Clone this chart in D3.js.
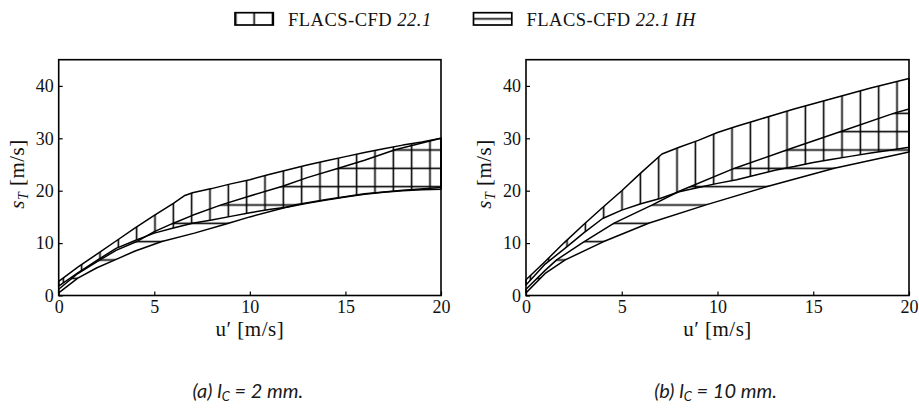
<!DOCTYPE html>
<html>
<head>
<meta charset="utf-8">
<script src="https://cdn.jsdelivr.net/npm/d3@7"></script>
<style>
  html, body { margin: 0; padding: 0; background: #fff; }
  svg { display: block; }
</style>
</head>
<body>
<svg id="chart" width="919" height="413"></svg>
<script>
// Turbulent burning velocity s_T against u' — bounds of each simulation envelope, [u', s_T]
// Panel (a): l_C = 2 mm
const a_cfdUpper = [[0,2.7],[1,5.4],[2,7.9],[3,10.4],[4,12.9],[5,15.3],[6,17.6],[6.6,19.1],[7,19.6],[8,20.4],[9,21.3],[10,22.1],[11,23.1],[12,24.0],[13,24.9],[14,25.7],[15,26.5],[16,27.3],[17,28.0],[18,28.7],[19,29.3],[20,30.0]];
const a_cfdLower = [[0,1.8],[1,4.3],[2,6.7],[3,9.0],[4,10.5],[5,11.9],[6,12.9],[7,13.8],[8,14.4],[9,15.1],[10,15.8],[11,16.4],[12,16.9],[13,17.6],[14,18.2],[15,18.8],[16,19.3],[17,19.7],[18,20.0],[19,20.2],[20,20.3]];
const a_ihUpper  = [[0,1.2],[1,4.2],[2.16,6.8],[3,8.6],[4.08,10.3],[5,12.2],[6,13.8],[7,15.3],[8.5,17.3],[10,19.0],[11.75,20.9],[13,22.5],[14.63,24.3],[16,25.8],[17.6,27.8],[19,29.1],[20,30.0]];
const a_ihLower  = [[0,0.5],[1,3.3],[2,5.3],[2.95,6.8],[4,8.5],[5.4,10.3],[7.1,11.9],[8.8,13.7],[10,15.0],[12.4,17.3],[14,18.3],[16,19.4],[18,20.1],[20,20.6]];

// Panel (b): l_C = 10 mm
const b_cfdUpper = [[0,3.0],[1,6.5],[2,10.1],[3,13.5],[4,16.8],[5,20.0],[6,23.4],[7.1,27.0],[8,28.3],[9,29.6],[10,31.1],[11,32.3],[12,33.4],[13,34.5],[14,35.6],[15,36.6],[16,37.6],[17,38.6],[18,39.6],[19,40.5],[20,41.4]];
const b_cfdLower = [[0,2.0],[1,6.0],[2,8.9],[3,11.9],[4,14.7],[5,16.3],[6,17.5],[7,18.5],[8,19.8],[9,20.6],[10,21.4],[11,22.1],[12,23.0],[13,23.9],[14,24.6],[15,25.4],[16,26.0],[17,26.6],[18,27.2],[19,27.7],[20,28.3]];
const b_ihUpper  = [[0,1.2],[1,4.8],[1.6,6.8],[3,10.2],[4.6,13.8],[6.6,17.3],[8,19.9],[10.9,24.3],[13.65,27.8],[16.44,31.3],[19.23,34.8],[20,35.6]];
const b_ihLower  = [[0,0.5],[1,4.2],[2.05,6.8],[4,10.2],[6.4,13.8],[9.4,17.3],[12.6,20.8],[16.1,24.3],[20,27.4]];

const xTicks = [0, 5, 10, 15, 20];
const yTicks = [0, 10, 20, 30, 40];
const xDomain = [0, 20];
const yDomain = [0, 45];
const seriesNames = ["FLACS-CFD", "FLACS-CFD"];
const seriesVersions = ["22.1", "22.1 IH"];
const captionTags = ["(a)", "(b)"];
const captionSizes = ["2 mm.", "10 mm."];

// ---- layout ----
const HATCH = 18.333;
const TOP = 59.7, BOTTOM = 295.5;
const panels = [
  { id: "a", left: 58.7, right: 441, vPhase: 63.33, hPhase: 150,
    cfd: [a_cfdUpper, a_cfdLower], ih: [a_ihUpper, a_ihLower] },
  { id: "b", left: 526, right: 909, vPhase: 548.7, hPhase: 150,
    cfd: [b_cfdUpper, b_cfdLower], ih: [b_ihUpper, b_ihLower] }
];
const serif = "'Liberation Serif', 'DejaVu Serif', serif";

const svg = d3.select("#chart");
const defs = svg.append("defs");

// hatch patterns in page coordinates: '|' for FLACS-CFD 22.1, '-' for the IH variant
function makeHatch(id, vertical, phase) {
  const p = defs.append("pattern")
    .attr("id", id)
    .attr("patternUnits", "userSpaceOnUse")
    .attr("width", HATCH).attr("height", HATCH);
  if (vertical) {
    p.attr("x", phase - HATCH / 2).attr("y", 0);
    p.append("line").attr("x1", HATCH / 2).attr("x2", HATCH / 2)
      .attr("y1", -1).attr("y2", HATCH + 1);
  } else {
    p.attr("x", 0).attr("y", phase - HATCH / 2);
    p.append("line").attr("y1", HATCH / 2).attr("y2", HATCH / 2)
      .attr("x1", -1).attr("x2", HATCH + 1);
  }
  p.selectAll("line").attr("stroke", "#000").attr("stroke-width", 1.6);
}

panels.forEach((P, i) => {
  makeHatch("vh-" + P.id, true, P.vPhase);
  makeHatch("hh-" + P.id, false, P.hPhase);

  const x = d3.scaleLinear().domain(xDomain).range([P.left, P.right]);
  const y = d3.scaleLinear().domain(yDomain).range([BOTTOM, TOP]);
  const line = d3.line().x(d => x(d[0])).y(d => y(d[1]));
  const band = (upper, lower) => line(upper.concat(lower.slice().reverse())) + "Z";

  const g = svg.append("g");

  g.append("path").attr("d", band(P.cfd[0], P.cfd[1]))
    .attr("fill", `url(#vh-${P.id})`).attr("stroke", "#000")
    .attr("stroke-width", 1.5).attr("stroke-linejoin", "round");
  g.append("path").attr("d", band(P.ih[0], P.ih[1]))
    .attr("fill", `url(#hh-${P.id})`).attr("stroke", "#000")
    .attr("stroke-width", 1.5).attr("stroke-linejoin", "round");

  // inward ticks
  const xAxis = d3.axisBottom(x).tickValues(xTicks).tickSize(-4).tickFormat(d3.format("d"));
  const yAxis = d3.axisLeft(y).tickValues(yTicks).tickSize(-4).tickFormat(d3.format("d"));

  const gx = g.append("g").attr("transform", `translate(0,${BOTTOM})`).call(xAxis);
  const gy = g.append("g").attr("transform", `translate(${P.left},0)`).call(yAxis);
  [gx, gy].forEach(a => {
    a.select(".domain").remove();
    a.selectAll(".tick line").attr("stroke", "#000").attr("stroke-width", 1.2);
    a.selectAll(".tick text").attr("fill", "#111").style("font-family", serif).style("font-size", "18px");
  });
  gx.selectAll(".tick text").attr("y", 5).attr("dy", "0.71em");
  gy.selectAll(".tick text").attr("x", -5);

  // frame
  g.append("rect").attr("x", P.left).attr("y", TOP)
    .attr("width", P.right - P.left).attr("height", BOTTOM - TOP)
    .attr("fill", "none").attr("stroke", "#000").attr("stroke-width", 1.6);

  // axis titles
  const cx = (P.left + P.right) / 2;
  g.append("text").attr("x", cx).attr("y", 336)
    .attr("text-anchor", "middle").attr("fill", "#111")
    .style("font-family", serif).style("font-size", "21px").style("letter-spacing", "0.5px")
    .text("u\u2032 [m/s]");

  const yl = g.append("text")
    .attr("transform", `translate(${P.left - 35},${174}) rotate(-90)`)
    .attr("text-anchor", "middle").attr("fill", "#111")
    .style("font-family", serif).style("font-size", "21px").style("letter-spacing", "0.5px");
  yl.append("tspan").style("font-style", "italic").text("s");
  yl.append("tspan").style("font-style", "italic").style("font-size", "14px")
    .attr("dy", 4).text("T");
  yl.append("tspan").attr("dy", -4).text(" [m/s]");

  // caption
  const cap = g.append("text").attr("x", cx - 2).attr("y", 398)
    .attr("text-anchor", "middle").attr("fill", "#1a1a1a")
    .style("font-family", "Lato, 'Open Sans', sans-serif").style("font-style", "italic")
    .style("font-size", "20px");
  cap.append("tspan").text(captionTags[i] + " l");
  cap.append("tspan").style("font-size", "13px").attr("dy", 3).text("C");
  cap.append("tspan").attr("dy", -3).text(" = " + captionSizes[i]);
});

// legend
const legendItems = [
  { x: 235, fill: "vh-leg", name: seriesNames[0], ver: seriesVersions[0] },
  { x: 473.5, fill: "hh-leg", name: seriesNames[1], ver: seriesVersions[1] }
];
// legend swatches carry one centred hatch line each
const lv = defs.append("pattern").attr("id", "vh-leg").attr("patternUnits", "userSpaceOnUse")
  .attr("x", 235 + 19.15 - HATCH / 2).attr("y", 0).attr("width", HATCH).attr("height", HATCH);
lv.append("line").attr("x1", HATCH / 2).attr("x2", HATCH / 2).attr("y1", -1).attr("y2", HATCH + 1)
  .attr("stroke", "#000").attr("stroke-width", 1.6);
const lh = defs.append("pattern").attr("id", "hh-leg").attr("patternUnits", "userSpaceOnUse")
  .attr("x", 0).attr("y", 18.85 - HATCH / 2).attr("width", HATCH).attr("height", HATCH);
lh.append("line").attr("y1", HATCH / 2).attr("y2", HATCH / 2).attr("x1", -1).attr("x2", HATCH + 1)
  .attr("stroke", "#000").attr("stroke-width", 1.6);

const leg = svg.append("g");
legendItems.forEach(it => {
  leg.append("rect").attr("x", it.x).attr("y", 12.7).attr("width", 38.3).attr("height", 12.3)
    .attr("fill", `url(#${it.fill})`).attr("stroke", "#000").attr("stroke-width", 1.7);
  const t = leg.append("text").attr("x", it.x + 53).attr("y", 25.5)
    .attr("fill", "#111").style("font-family", serif).style("font-size", "18.5px")
    .style("letter-spacing", "0.5px");
  t.append("tspan").text(it.name + " ");
  t.append("tspan").style("font-style", "italic").text(it.ver);
});
</script>
</body>
</html>
